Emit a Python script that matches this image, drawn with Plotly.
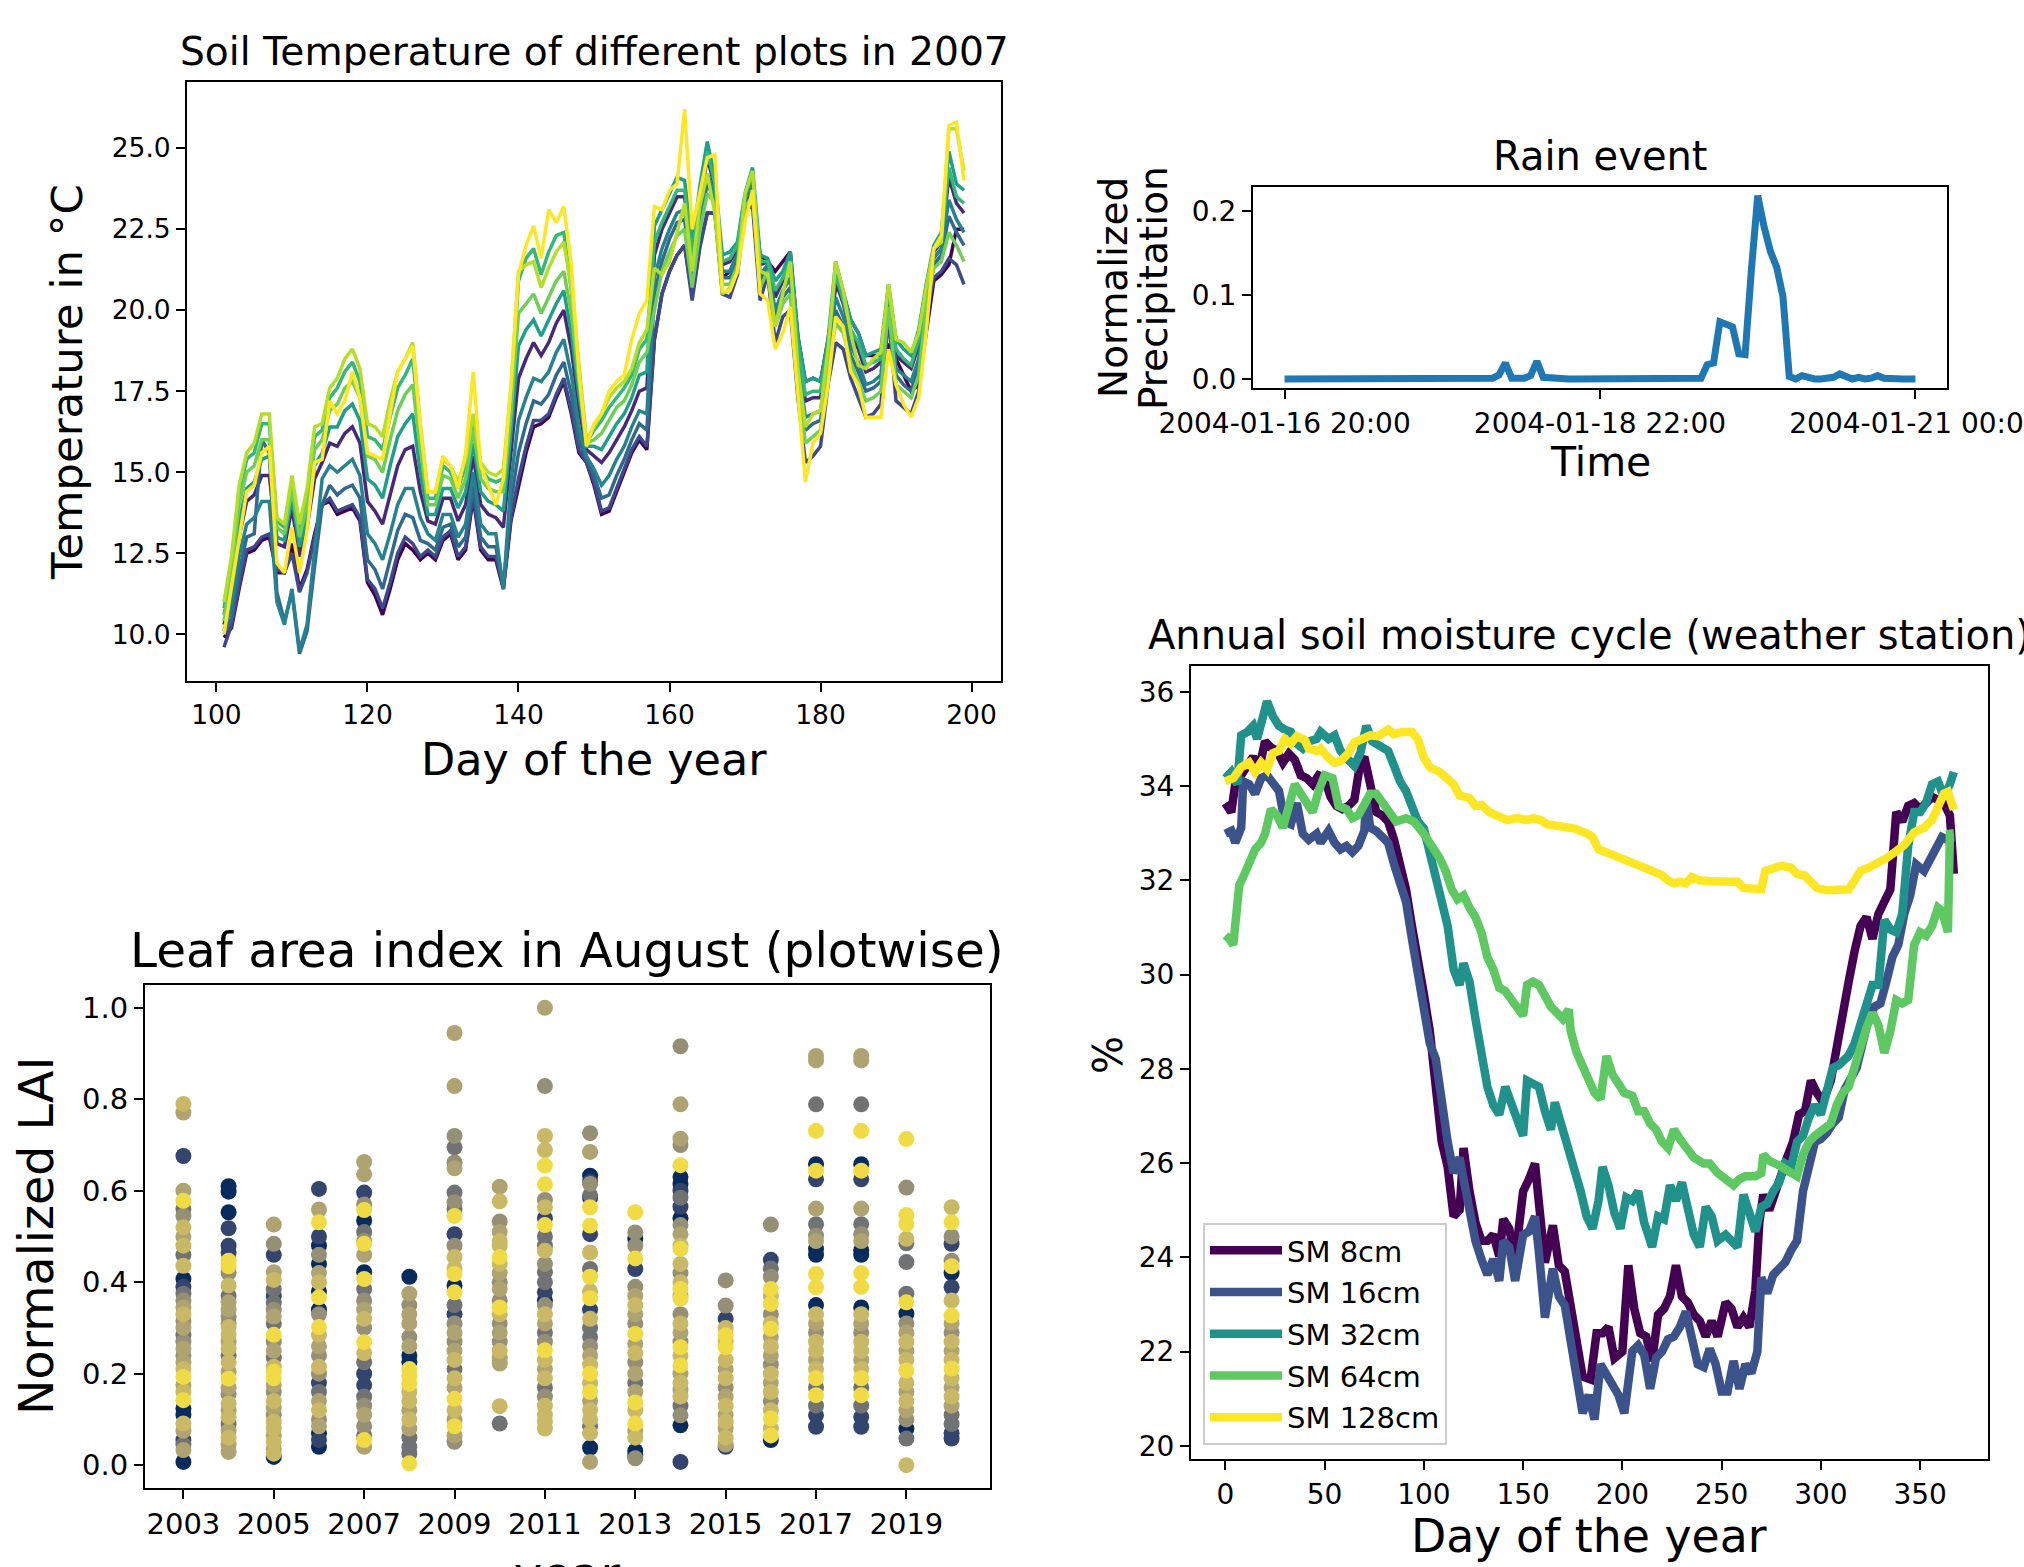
import pandas as pd
import plotly.graph_objects as go

W, H = 2024, 1567
FONT = "DejaVu Sans"

# ---------------- Soil temperature, days 101-199 (one series per plot) ----------------
temp_days = list(range(101, 200))
temp_colors = ["#440154", "#482878", "#3e4989", "#31688e", "#26828e",
               "#1f9e89", "#35b779", "#6ece58", "#b5de2b", "#fde725"]

temp_p01 = [9.9, 10.2, 11.4, 12.5, 12.6, 12.9, 13.0, 11.9, 11.9, 12.8,
            11.4, 12.0, 13.1, 14.0, 14.1, 13.7, 13.8, 13.9, 13.5, 11.6,
            11.2, 10.6, 11.4, 12.3, 12.8, 12.6, 12.3, 12.5, 12.3, 12.9,
            13.1, 12.3, 12.6, 14.2, 12.6, 12.3, 12.3, 11.4, 13.5, 14.6,
            15.6, 16.4, 16.5, 16.7, 17.3, 17.8, 16.8, 15.6, 15.3, 14.6,
            13.7, 13.8, 14.4, 15.0, 15.6, 16.0, 15.7, 19.1, 20.5, 21.2,
            21.7, 22.0, 20.5, 22.0, 23.0, 23.0, 21.0, 21.2, 21.7, 23.1,
            23.7, 21.7, 21.5, 21.2, 21.5, 21.8, 19.2, 17.8, 17.9, 17.8,
            19.1, 20.7, 20.5, 19.7, 19.3, 18.6, 18.6, 18.6, 18.9, 18.5,
            18.0, 17.5, 17.7, 19.3, 20.9, 21.1, 21.4, 22.5, 22.5]
temp_p02 = [10.3, 11.3, 13.0, 14.1, 14.3, 14.9, 14.9, 12.8, 12.7, 13.9,
            12.4, 13.3, 14.8, 15.3, 15.9, 15.8, 16.2, 16.4, 15.9, 14.1,
            13.8, 13.4, 14.3, 15.2, 15.7, 15.8, 14.4, 13.5, 13.4, 14.2,
            14.2, 13.5, 14.0, 15.5, 14.0, 13.7, 13.6, 13.3, 15.6, 17.9,
            18.5, 19.0, 18.6, 19.0, 19.6, 20.0, 18.8, 17.0, 15.7, 15.5,
            15.3, 15.6, 16.0, 16.4, 16.9, 17.5, 17.6, 21.7, 22.5, 23.0,
            23.5, 23.5, 21.6, 23.3, 24.7, 23.8, 21.4, 21.5, 21.9, 23.5,
            24.1, 21.4, 21.5, 20.4, 20.9, 21.4, 18.7, 17.2, 17.3, 17.3,
            18.8, 20.9, 20.2, 19.3, 18.8, 18.1, 18.2, 18.4, 20.6, 18.6,
            18.4, 18.2, 18.9, 20.6, 21.8, 22.1, 24.1, 23.3, 23.0]
temp_p03 = [9.6, 10.3, 11.5, 12.6, 12.7, 13.0, 13.1, 12.0, 11.9, 12.5,
            11.3, 11.9, 13.0, 14.0, 14.2, 13.8, 13.9, 14.0, 13.6, 11.7,
            11.4, 10.8, 11.6, 12.5, 13.0, 12.8, 12.4, 12.6, 12.4, 13.0,
            13.2, 12.4, 12.7, 14.3, 12.7, 12.4, 12.4, 11.5, 13.6, 14.8,
            15.8, 16.6, 16.6, 16.8, 17.4, 17.9, 16.9, 15.7, 15.3, 14.7,
            13.8, 13.9, 14.5, 15.1, 15.7, 16.1, 15.8, 19.1, 20.5, 21.2,
            21.7, 22.0, 20.3, 21.9, 23.0, 23.0, 20.5, 20.4, 21.1, 23.1,
            23.2, 20.3, 21.1, 19.0, 19.8, 20.0, 17.3, 15.3, 15.5, 15.8,
            17.7, 19.0, 18.8, 17.9, 17.3, 16.7, 16.8, 17.1, 19.8, 17.2,
            17.0, 16.8, 17.5, 19.8, 21.0, 21.2, 21.6, 21.4, 20.8]
temp_p04 = [10.0, 10.5, 11.9, 13.0, 13.1, 16.0, 15.6, 11.3, 10.4, 11.3,
            9.4, 10.1, 12.1, 14.0, 14.6, 14.3, 14.5, 14.6, 14.2, 12.3,
            12.0, 11.4, 12.3, 13.2, 13.7, 13.6, 12.9, 12.8, 12.6, 13.3,
            13.4, 12.7, 13.0, 14.6, 13.0, 12.7, 12.7, 11.4, 14.1, 15.6,
            16.5, 17.2, 17.1, 17.4, 18.0, 18.4, 17.4, 16.0, 15.4, 14.9,
            14.2, 14.3, 14.9, 15.4, 16.0, 16.5, 16.3, 20.5, 21.5, 22.2,
            22.7, 22.8, 21.0, 22.7, 23.9, 23.4, 21.0, 21.0, 21.5, 23.3,
            23.7, 20.9, 21.3, 19.8, 20.4, 20.7, 18.1, 16.3, 16.5, 16.6,
            18.3, 20.0, 19.5, 18.6, 18.1, 17.5, 17.6, 17.8, 20.2, 18.0,
            17.7, 17.5, 18.3, 20.2, 21.4, 21.7, 22.9, 22.4, 22.0]
temp_p05 = [10.1, 10.9, 12.4, 13.4, 13.6, 14.1, 14.1, 11.0, 10.3, 11.4,
            9.5, 10.3, 12.6, 14.8, 15.2, 15.0, 15.2, 15.4, 14.9, 13.1,
            12.8, 12.3, 13.1, 14.0, 14.5, 14.5, 13.6, 13.1, 12.9, 13.7,
            13.7, 13.0, 13.4, 15.0, 13.4, 13.1, 13.1, 11.4, 14.7, 16.6,
            17.3, 17.9, 17.8, 18.1, 18.7, 19.1, 18.0, 16.4, 15.5, 15.1,
            14.6, 14.9, 15.4, 15.8, 16.4, 16.9, 16.8, 21.0, 21.9, 22.5,
            23.0, 23.1, 21.2, 22.9, 24.2, 23.6, 21.2, 21.2, 21.7, 23.4,
            23.9, 21.1, 21.4, 20.0, 20.6, 21.0, 18.3, 16.7, 16.8, 16.9,
            18.5, 20.4, 19.8, 18.9, 18.4, 17.7, 17.8, 18.0, 20.4, 18.2,
            18.0, 17.8, 18.5, 20.4, 21.6, 21.9, 23.4, 22.8, 22.4]
temp_p06 = [10.6, 11.6, 13.5, 14.5, 14.7, 15.4, 15.5, 13.0, 12.9, 14.2,
            12.7, 13.6, 15.2, 15.6, 16.4, 16.4, 16.9, 17.1, 16.6, 14.8,
            14.6, 14.2, 15.2, 16.1, 16.5, 16.8, 15.0, 13.7, 13.7, 14.5,
            14.5, 13.9, 14.4, 15.9, 14.4, 14.1, 14.0, 13.8, 16.2, 18.9,
            19.4, 19.7, 19.2, 19.7, 20.2, 20.6, 19.3, 17.4, 15.8, 15.8,
            15.7, 16.1, 16.5, 16.8, 17.3, 18.0, 18.1, 22.6, 23.1, 23.6,
            24.1, 24.0, 22.0, 23.8, 25.2, 24.1, 21.7, 21.8, 22.1, 23.6,
            24.4, 21.7, 21.6, 20.9, 21.2, 21.8, 19.2, 17.8, 17.9, 17.8,
            19.1, 21.5, 20.6, 19.7, 19.3, 18.6, 18.7, 18.8, 20.8, 19.1,
            18.8, 18.6, 19.4, 20.8, 22.0, 22.4, 24.9, 23.9, 23.7]
temp_p07 = [10.8, 12.2, 14.3, 15.4, 15.6, 16.5, 16.5, 13.5, 13.3, 14.7,
            13.2, 14.3, 16.1, 16.3, 17.3, 17.6, 18.1, 18.4, 17.8, 16.1,
            16.0, 15.7, 16.7, 17.6, 18.0, 18.5, 16.2, 14.2, 14.2, 15.2,
            15.0, 14.5, 15.2, 16.6, 15.1, 14.8, 14.7, 14.8, 17.3, 20.9,
            21.6, 21.9, 21.1, 21.8, 22.3, 22.4, 20.6, 18.1, 15.9, 16.3,
            16.6, 17.0, 17.3, 17.6, 18.0, 18.8, 19.1, 22.1, 22.7, 23.2,
            23.7, 23.7, 21.7, 23.5, 24.9, 23.9, 21.5, 21.6, 22.0, 23.5,
            24.2, 21.5, 21.5, 20.6, 21.0, 21.5, 18.9, 17.4, 17.5, 17.5,
            18.9, 21.1, 20.3, 19.4, 19.0, 18.3, 18.4, 18.5, 20.7, 18.8,
            18.5, 18.3, 19.1, 20.7, 21.9, 22.2, 24.4, 23.5, 23.3]
temp_p08 = [10.4, 12.0, 14.0, 15.0, 15.2, 16.0, 16.0, 13.3, 13.1, 14.5,
            13.0, 14.0, 15.7, 16.0, 16.9, 17.1, 17.6, 17.8, 17.3, 15.5,
            15.4, 15.0, 16.0, 16.9, 17.4, 17.7, 15.7, 14.0, 14.0, 14.9,
            14.8, 14.2, 14.8, 16.3, 14.8, 14.5, 14.4, 14.4, 16.8, 19.9,
            20.2, 20.5, 19.9, 20.4, 20.9, 21.2, 19.9, 17.8, 15.9, 16.0,
            16.2, 16.6, 17.0, 17.2, 17.7, 18.4, 18.7, 20.0, 21.2, 21.8,
            22.3, 22.5, 20.7, 22.4, 23.6, 23.3, 20.8, 20.8, 21.4, 23.2,
            23.5, 20.7, 21.2, 19.5, 20.2, 20.5, 17.8, 15.9, 16.1, 16.3,
            18.1, 19.6, 19.3, 18.4, 17.8, 17.2, 17.3, 17.5, 20.1, 17.7,
            17.5, 17.3, 18.0, 20.1, 21.3, 21.5, 22.4, 22.0, 21.5]
temp_p09 = [11.0, 12.4, 14.6, 15.6, 15.9, 16.8, 16.8, 13.6, 13.4, 14.9,
            13.4, 14.5, 16.4, 16.5, 17.6, 17.9, 18.5, 18.8, 18.2, 16.5,
            16.4, 16.1, 17.2, 18.1, 18.5, 19.0, 16.5, 14.4, 14.4, 15.4,
            15.2, 14.7, 15.4, 16.8, 15.3, 15.0, 14.9, 15.1, 17.6, 21.2,
            21.4, 21.5, 20.7, 21.3, 21.8, 22.1, 20.7, 18.3, 16.0, 16.4,
            16.8, 17.3, 17.6, 17.8, 18.2, 19.0, 19.4, 21.3, 21.1, 21.5,
            22.4, 23.3, 21.2, 23.2, 24.2, 23.0, 20.5, 20.7, 21.2, 23.6,
            24.3, 21.2, 21.1, 19.5, 20.5, 21.5, 18.2, 16.4, 16.8, 16.9,
            18.8, 21.5, 20.6, 19.3, 18.3, 18.2, 18.5, 18.7, 20.8, 19.1,
            19.0, 18.7, 19.3, 20.7, 21.9, 22.1, 25.6, 25.6, 24.3]
temp_p10 = [10.0, 11.5, 13.0, 14.4, 14.6, 15.6, 15.8, 12.2, 11.9, 13.3,
            11.9, 13.2, 15.3, 15.4, 17.2, 16.8, 17.2, 18.1, 17.3, 15.6,
            15.5, 15.4, 16.8, 18.1, 18.5, 18.9, 16.4, 14.4, 14.4, 15.5,
            15.2, 14.5, 15.6, 18.1, 15.2, 14.6, 14.0, 14.8, 17.7, 21.1,
            22.0, 22.6, 21.6, 23.1, 22.7, 23.2, 21.4, 18.1, 15.8, 16.5,
            16.8, 17.5, 17.8, 18.0, 19.1, 19.9, 20.3, 23.2, 23.1, 23.7,
            23.9, 26.2, 22.5, 23.6, 24.7, 24.8, 20.6, 20.6, 21.2, 22.7,
            23.7, 20.5, 20.3, 18.8, 19.3, 20.1, 17.3, 14.7, 15.9, 16.2,
            17.7, 19.8, 19.5, 18.1, 17.7, 16.7, 16.7, 16.7, 18.8, 17.7,
            17.1, 16.7, 17.3, 19.3, 21.9, 22.3, 25.7, 25.8, 24.0]
temp_series = [temp_p01, temp_p02, temp_p03, temp_p04, temp_p05,
               temp_p06, temp_p07, temp_p08, temp_p09, temp_p10]

# ---------------- Rain event, hourly normalized precipitation ----------------
rain_start = "2004-01-16 20:00"
rain_values = [0.0, 0.0, 0.0, 0.0, 0.0, 0.0, 0.0, 0.0, 0.0, 0.0,
               0.0, 0.0, 0.0, 0.0, 0.0, 0.0, 0.0, 0.0, 0.0, 0.0,
               0.0, 0.0, 0.0, 0.0, 0.0, 0.0, 0.0, 0.0, 0.0, 0.0,
               0.0, 0.0, 0.0, 0.001, 0.005, 0.019, 0.001, 0.0, 0.001, 0.004,
               0.021, 0.002, 0.001, 0.0, 0.0, 0.0, 0.0, 0.0, 0.0, 0.0,
               0.0, 0.0, 0.0, 0.0, 0.0, 0.0, 0.0, 0.0, 0.0, 0.0,
               0.0, 0.0, 0.0, 0.0, 0.0, 0.0, 0.001, 0.017, 0.019, 0.068,
               0.064, 0.062, 0.030, 0.029, 0.13, 0.218, 0.181, 0.152, 0.133, 0.098,
               0.003, 0.0, 0.004, 0.001, 0.0, 0.0, 0.001, 0.002, 0.006, 0.002,
               0.0, 0.002, 0.0, 0.001, 0.004, 0.001, 0.0, 0.0, 0.0, 0.0,
               0.0]
rain_ticks = ["2004-01-16 20:00", "2004-01-18 22:00", "2004-01-21 00:00"]

# ---------------- Leaf area index in August: (normalized LAI, plot shade) ----------------
lai_years = list(range(2003, 2021))
LAI_2003 = [(0.79, .8), (0.771, .7), (0.676, .2), (0.60, .7), (0.578, .95), (0.56, .45), (0.545, .6),
            (0.52, .8), (0.50, .7), (0.48, .8), (0.46, .45), (0.436, .8), (0.407, .05), (0.39, .2),
            (0.375, .45), (0.36, .6), (0.345, .7), (0.33, .8), (0.315, .6), (0.30, .7), (0.285, .45),
            (0.27, .6), (0.255, .7), (0.24, .6), (0.225, .7), (0.21, .8), (0.193, .95), (0.175, .7),
            (0.16, .8), (0.142, .95), (0.124, .05), (0.11, .05), (0.091, .8), (0.075, .7), (0.055, .2),
            (0.045, .45), (0.033, .7), (0.007, .05)]
LAI_2004 = [(0.61, .05), (0.598, .05), (0.553, .05), (0.518, .2), (0.48, .2), (0.465, .2), (0.447, .95),
            (0.435, .95), (0.42, .6), (0.393, .8), (0.37, .45), (0.356, .7), (0.34, .7), (0.325, .6),
            (0.31, .6), (0.302, .8), (0.285, .8), (0.27, .7), (0.255, .8), (0.24, .45), (0.225, .8),
            (0.205, .7), (0.189, .95), (0.17, .7), (0.155, .6), (0.135, .8), (0.12, .7), (0.105, .8),
            (0.09, .45), (0.075, .7), (0.06, .8), (0.045, .7), (0.029, .7)]
LAI_2005 = [(0.526, .7), (0.484, .6), (0.46, .2), (0.422, .7), (0.405, .8), (0.385, .45), (0.37, .2),
            (0.355, .45), (0.34, .6), (0.325, .7), (0.31, .45), (0.285, .95), (0.27, .6), (0.25, .7),
            (0.235, .45), (0.215, .8), (0.204, .95), (0.19, .95), (0.175, .7), (0.16, .6), (0.14, .8),
            (0.125, .7), (0.11, .6), (0.095, .8), (0.08, .8), (0.065, .7), (0.05, .8), (0.035, .7),
            (0.025, .8), (0.018, .05)]
LAI_2006 = [(0.604, .2), (0.559, .7), (0.531, .95), (0.50, .2), (0.48, .05), (0.46, .6), (0.44, .05),
            (0.42, .7), (0.40, .8), (0.38, .05), (0.367, .95), (0.34, .05), (0.33, .6), (0.302, .95),
            (0.285, .8), (0.26, .7), (0.24, .6), (0.215, .8), (0.20, .6), (0.18, .2), (0.16, .45),
            (0.14, .7), (0.12, .8), (0.10, .6), (0.085, .7), (0.07, .05), (0.055, .2), (0.04, .05)]
LAI_2007 = [(0.663, .7), (0.636, .7), (0.596, .2), (0.57, .6), (0.558, .95), (0.535, .05), (0.51, .45),
            (0.49, .6), (0.484, .95), (0.46, .7), (0.422, .05), (0.407, .95), (0.385, .45), (0.36, .6),
            (0.34, .7), (0.32, .8), (0.30, .6), (0.269, .95), (0.245, .8), (0.225, .45), (0.20, .2),
            (0.175, .2), (0.15, .45), (0.13, .6), (0.11, .7), (0.085, .6), (0.065, .45), (0.055, .95),
            (0.04, .7)]
LAI_2008 = [(0.412, .05), (0.375, .7), (0.35, .6), (0.33, .7), (0.31, .7), (0.28, .6), (0.26, .7),
            (0.24, .05), (0.225, .05), (0.21, .95), (0.195, .95), (0.178, .95), (0.16, .8), (0.14, .8),
            (0.12, .7), (0.10, .8), (0.08, .7), (0.06, .45), (0.04, .45), (0.025, .45), (0.004, .95)]
LAI_2009 = [(0.945, .7), (0.829, .7), (0.72, .6), (0.695, .45), (0.662, .6), (0.649, .7), (0.596, .45),
            (0.575, .6), (0.56, .45), (0.545, .95), (0.505, .2), (0.48, .6), (0.455, .8), (0.43, .8),
            (0.418, .95), (0.393, .05), (0.378, .95), (0.35, .45), (0.33, .2), (0.31, .6), (0.29, .7),
            (0.27, .6), (0.25, .7), (0.23, .8), (0.21, .45), (0.19, .8), (0.17, .7), (0.145, .95),
            (0.12, .8), (0.10, .7), (0.085, .95), (0.065, .7), (0.051, .6)]
LAI_2010 = [(0.609, .7), (0.577, .8), (0.533, .6), (0.51, .7), (0.49, .8), (0.48, .8), (0.455, .95),
            (0.44, .8), (0.42, .7), (0.40, .6), (0.385, .7), (0.36, .6), (0.345, .95), (0.33, .8),
            (0.31, .6), (0.29, .7), (0.27, .6), (0.25, .8), (0.235, .7), (0.222, .7), (0.129, .8),
            (0.091, .45)]
LAI_2011 = [(1.0, .7), (0.829, .6), (0.72, .8), (0.689, .8), (0.655, .95), (0.614, .95), (0.58, .6),
            (0.564, .8), (0.54, .2), (0.525, .95), (0.50, .45), (0.48, .45), (0.469, .8), (0.44, .6),
            (0.422, .45), (0.40, .45), (0.378, .2), (0.36, .05), (0.35, .6), (0.33, .8), (0.31, .7),
            (0.29, .45), (0.27, .6), (0.251, .95), (0.23, .8), (0.21, .7), (0.19, .8), (0.17, .45),
            (0.15, .6), (0.13, .8), (0.11, .8), (0.095, .8), (0.08, .8)]
LAI_2012 = [(0.726, .6), (0.685, .7), (0.633, .05), (0.62, .2), (0.615, .6), (0.59, .45), (0.585, .05),
            (0.564, .95), (0.524, .95), (0.505, .2), (0.465, .8), (0.429, .45), (0.412, .95), (0.38, .8),
            (0.365, .95), (0.34, .2), (0.32, .8), (0.30, .45), (0.28, .45), (0.26, .6), (0.24, .7),
            (0.22, .8), (0.20, .95), (0.18, .8), (0.16, .95), (0.14, .7), (0.12, .8), (0.10, .8),
            (0.085, .45), (0.07, .8), (0.038, .05), (0.007, .7)]
LAI_2013 = [(0.553, .95), (0.509, .6), (0.495, .05), (0.48, .6), (0.452, .95), (0.429, .2), (0.39, .6),
            (0.37, .7), (0.35, .8), (0.33, .7), (0.31, .6), (0.287, .95), (0.265, .7), (0.245, .8),
            (0.225, .6), (0.20, .7), (0.18, .45), (0.16, .7), (0.137, .95), (0.12, .8), (0.091, .95),
            (0.075, .7), (0.06, .8), (0.031, .05), (0.02, .05), (0.015, .6)]
LAI_2014 = [(0.916, .6), (0.789, .7), (0.714, .7), (0.70, .6), (0.656, .95), (0.63, .05), (0.615, .05),
            (0.60, .2), (0.585, .45), (0.565, .2), (0.54, .05), (0.525, .6), (0.505, .7), (0.48, .8),
            (0.473, .95), (0.44, .8), (0.42, .6), (0.40, .8), (0.385, .95), (0.37, .7), (0.364, .95),
            (0.33, .6), (0.31, .8), (0.29, .7), (0.27, .6), (0.258, .95), (0.24, .8), (0.218, .95),
            (0.20, .7), (0.18, .8), (0.165, .7), (0.15, .8), (0.13, .45), (0.109, .6), (0.087, .05),
            (0.007, .2)]
LAI_2015 = [(0.404, .6), (0.349, .6), (0.32, .2), (0.30, .8), (0.284, .95), (0.27, .8), (0.258, .95),
            (0.23, .8), (0.21, .7), (0.19, .8), (0.17, .6), (0.15, .7), (0.13, .8), (0.11, .7),
            (0.095, .8), (0.08, .7), (0.06, .8), (0.045, .7), (0.04, .2)]
LAI_2016 = [(0.526, .6), (0.449, .2), (0.43, .45), (0.412, .6), (0.385, .95), (0.37, .8), (0.353, .95),
            (0.33, .6), (0.31, .8), (0.298, .95), (0.28, .7), (0.26, .8), (0.24, .7), (0.22, .6),
            (0.20, .8), (0.18, .7), (0.16, .8), (0.14, .6), (0.12, .8), (0.102, .95), (0.08, .8),
            (0.065, .95), (0.055, .05)]
LAI_2017 = [(0.895, .7), (0.885, .7), (0.789, .45), (0.731, .95), (0.658, .05), (0.644, .95), (0.625, .2),
            (0.561, .7), (0.527, .45), (0.502, .6), (0.49, .7), (0.473, .05), (0.46, .05), (0.418, .95),
            (0.389, .95), (0.35, .05), (0.33, .8), (0.31, .7), (0.29, .6), (0.27, .8), (0.25, .8),
            (0.23, .7), (0.21, .8), (0.19, .95), (0.17, .45), (0.153, .95), (0.13, .45), (0.109, .2),
            (0.084, .2)]
LAI_2018 = [(0.895, .7), (0.885, .7), (0.789, .45), (0.731, .95), (0.658, .05), (0.644, .95), (0.625, .2),
            (0.561, .7), (0.527, .45), (0.505, .6), (0.49, .7), (0.47, .05), (0.46, .05), (0.42, .95),
            (0.39, .95), (0.345, .05), (0.33, .8), (0.31, .7), (0.29, .6), (0.27, .8), (0.25, .8),
            (0.23, .7), (0.21, .8), (0.19, .95), (0.17, .45), (0.153, .95), (0.13, .45), (0.105, .2),
            (0.084, .2)]
LAI_2019 = [(0.713, .95), (0.607, .6), (0.547, .95), (0.527, .95), (0.495, .8), (0.485, .45), (0.444, .45),
            (0.375, .45), (0.356, .95), (0.331, .05), (0.31, .6), (0.29, .7), (0.27, .8), (0.25, .7),
            (0.23, .8), (0.207, .95), (0.18, .8), (0.16, .7), (0.14, .8), (0.12, .7), (0.10, .6),
            (0.08, .05), (0.058, .45), (0.0, .8)]
LAI_2020 = [(0.564, .8), (0.531, .95), (0.50, .6), (0.484, .2), (0.447, .6), (0.435, .95), (0.42, .05),
            (0.389, .2), (0.36, .8), (0.327, .95), (0.31, .7), (0.29, .6), (0.27, .8), (0.25, .7),
            (0.23, .8), (0.211, .95), (0.19, .8), (0.17, .7), (0.15, .8), (0.13, .7), (0.11, .45),
            (0.09, .45), (0.07, .2), (0.058, .2)]
lai_by_year = [LAI_2003, LAI_2004, LAI_2005, LAI_2006, LAI_2007, LAI_2008, LAI_2009, LAI_2010, LAI_2011,
               LAI_2012, LAI_2013, LAI_2014, LAI_2015, LAI_2016, LAI_2017, LAI_2018, LAI_2019, LAI_2020]

# ---------------- Annual soil moisture cycle (weather station), % ----------------
sm_labels = ["SM 8cm", "SM 16cm", "SM 32cm", "SM 64cm", "SM 128cm"]
sm_colors = ["#440154", "#3b528b", "#21918c", "#5ec962", "#fde725"]

sm8_day = [0, 3, 5, 8, 11, 14, 17, 20, 23, 26, 29, 32, 35, 38, 41, 44, 47, 50, 53, 56,
           59, 62, 65, 68, 70, 73, 76, 79, 82, 85, 88, 91, 94, 97, 100, 103, 106, 109, 112, 115,
           118, 120, 123, 126, 129, 132, 135, 138, 140, 143, 146, 150, 153, 156, 158, 161, 165, 168, 171, 174,
           177, 180, 184, 187, 190, 193, 196, 200, 203, 206, 209, 212, 215, 218, 221, 224, 227, 230, 233, 236,
           239, 242, 245, 248, 252, 255, 258, 261, 264, 267, 269, 271, 274, 277, 280, 283, 286, 289, 292, 295,
           298, 301, 305, 308, 311, 314, 317, 320, 323, 326, 329, 332, 335, 338, 341, 344, 347, 350, 353, 356,
           359, 362, 365, 367]
sm8_val = [33.64, 33.45, 34.04, 34.23, 34.43, 34.62, 34.36, 34.95, 34.82, 34.75,
           34.5, 34.69, 34.56, 34.23, 34.17, 34.04, 34.23, 34.17, 33.77, 33.58,
           33.51, 33.58, 33.71, 34.5, 34.62, 34.04, 33.45, 33.38, 33.25, 32.86,
           32.34, 31.81, 31.03, 30.37, 29.59, 28.8, 27.75, 26.45, 25.92, 24.87,
           25.0, 26.32, 25.4, 24.74, 24.35, 24.35, 24.48, 24.02, 24.81, 24.61,
           23.96, 25.4, 25.66, 25.99, 25.14, 23.89, 24.68, 23.83, 23.7, 22.91,
           22.26, 21.47, 21.41, 22.39, 22.39, 22.52, 21.86, 22.0, 23.83, 22.91,
           22.39, 22.32, 21.8, 22.78, 22.91, 23.17, 23.83, 23.17, 23.04, 22.78,
           22.65, 22.32, 22.65, 22.32, 23.04, 22.91, 22.52, 22.72, 22.52, 23.3,
           24.74, 25.33, 25.0, 25.4, 25.66, 26.12, 26.45, 27.03, 27.1, 27.75,
           27.49, 27.29, 27.75, 28.54, 29.06, 29.85, 30.5, 31.03, 31.22, 30.76,
           31.29, 31.55, 31.81, 33.45, 33.25, 33.58, 33.64, 33.51, 33.64, 33.77,
           33.71, 33.64, 33.38, 32.14]

sm16_day = [0, 3, 5, 8, 9, 12, 15, 18, 21, 24, 27, 30, 33, 36, 39, 42, 46, 48, 52, 55,
            58, 61, 64, 67, 70, 71, 73, 76, 79, 82, 85, 88, 91, 94, 97, 100, 103, 106, 109, 112,
            115, 118, 120, 123, 126, 129, 132, 135, 138, 140, 143, 146, 150, 153, 156, 158, 161, 165, 168, 171,
            174, 177, 180, 183, 186, 189, 192, 195, 198, 201, 205, 208, 211, 214, 217, 220, 223, 226, 229, 232,
            235, 238, 241, 244, 247, 250, 253, 256, 259, 262, 265, 268, 270, 273, 276, 279, 282, 285, 288, 291,
            294, 297, 300, 303, 306, 309, 312, 315, 318, 321, 324, 327, 330, 333, 336, 339, 342, 345, 348, 352,
            355, 358, 361, 364, 367]
sm16_val = [32.99, 33.05, 32.8, 33.12, 34.1, 34.04, 33.84, 34.17, 34.23, 34.04,
            33.9, 33.25, 33.19, 33.64, 32.99, 32.86, 32.99, 32.8, 33.05, 32.8,
            32.66, 32.73, 32.6, 32.73, 33.05, 33.71, 33.12, 33.05, 32.92, 32.8,
            32.34, 31.88, 31.55, 30.76, 29.98, 29.32, 28.54, 28.21, 27.23, 26.45,
            25.79, 26.12, 25.66, 24.87, 24.35, 23.96, 23.63, 23.96, 23.5, 24.35,
            24.22, 23.5, 24.48, 24.55, 24.87, 24.09, 22.72, 23.76, 23.17, 22.98,
            22.26, 21.6, 20.69, 21.08, 20.56, 21.73, 21.54, 21.34, 21.08, 20.69,
            22.0, 22.13, 21.93, 21.21, 21.87, 22.0, 22.26, 22.32, 22.52, 22.85,
            22.32, 21.73, 21.67, 22.06, 21.73, 21.15, 21.15, 21.8, 21.21, 21.73,
            21.54, 22.0, 23.57, 23.24, 23.63, 23.76, 23.89, 24.15, 24.35, 25.4,
            25.92, 26.45, 26.51, 26.64, 26.84, 26.97, 27.56, 27.82, 28.02, 28.54,
            29.06, 29.32, 29.39, 29.85, 30.37, 30.63, 31.29, 31.68, 32.34, 32.2,
            32.47, 32.73, 32.92, 32.86, 32.8]

sm32_day = [0, 3, 6, 8, 11, 14, 16, 18, 21, 24, 27, 30, 33, 36, 39, 42, 46, 48, 52, 55,
            58, 62, 65, 68, 71, 74, 79, 82, 85, 88, 91, 94, 97, 100, 103, 106, 109, 112, 115, 118,
            120, 123, 126, 129, 132, 135, 138, 141, 144, 147, 150, 152, 155, 158, 161, 164, 166, 170, 173, 176,
            179, 182, 185, 188, 190, 193, 196, 199, 202, 205, 208, 211, 215, 218, 221, 224, 227, 230, 233, 236,
            239, 242, 245, 248, 252, 255, 258, 261, 264, 267, 270, 273, 276, 279, 282, 285, 288, 291, 294, 297,
            300, 303, 306, 309, 314, 317, 320, 323, 326, 329, 332, 335, 338, 341, 344, 347, 350, 353, 356, 359,
            362, 365, 367]
sm32_val = [34.17, 34.3, 34.04, 35.08, 35.15, 35.28, 35.0, 35.35, 35.8, 35.48,
            35.28, 35.2, 35.15, 34.9, 34.8, 34.95, 35.0, 35.15, 35.0, 35.08,
            34.75, 34.56, 34.43, 34.7, 35.28, 34.95, 34.8, 34.75, 34.43, 34.1,
            33.9, 33.58, 33.25, 33.1, 32.6, 31.94, 31.48, 31.03, 30.11, 29.78,
            30.24, 29.85, 29.06, 28.41, 27.62, 27.23, 27.03, 27.62, 27.29, 27.03,
            26.58, 27.75, 27.69, 27.62, 27.1, 26.71, 27.29, 26.71, 26.32, 25.92,
            25.4, 24.87, 24.61, 25.2, 25.92, 25.53, 24.94, 24.61, 25.27, 25.2,
            25.4, 24.74, 24.22, 24.87, 24.81, 25.53, 25.2, 25.59, 25.0, 24.48,
            24.22, 25.07, 24.87, 24.35, 24.48, 24.35, 24.22, 25.33, 24.94, 24.55,
            25.07, 25.14, 25.4, 25.59, 25.99, 25.92, 26.45, 26.58, 26.97, 27.23,
            27.03, 27.49, 28.02, 28.08, 28.28, 28.54, 28.93, 29.46, 29.78, 29.78,
            31.16, 30.96, 30.9, 31.29, 32.73, 33.45, 33.45, 33.64, 34.04, 34.1,
            33.77, 34.04, 34.3]

sm64_day = [0, 2, 4, 7, 9, 12, 15, 18, 20, 23, 26, 29, 32, 35, 38, 40, 44, 47, 50, 54,
            57, 61, 64, 67, 70, 73, 76, 79, 82, 86, 91, 95, 100, 103, 108, 111, 114, 117, 120, 123,
            126, 129, 132, 135, 138, 141, 144, 147, 150, 152, 155, 158, 161, 164, 167, 170, 173, 174, 177, 180,
            183, 186, 189, 191, 192, 195, 198, 201, 205, 208, 211, 214, 217, 220, 223, 226, 229, 232, 236, 241,
            244, 248, 253, 256, 259, 262, 267, 270, 271, 274, 279, 283, 288, 291, 294, 297, 302, 305, 308, 311,
            314, 317, 320, 323, 326, 329, 332, 335, 338, 341, 344, 347, 350, 353, 356, 359, 361, 364, 365, 367]
sm64_val = [30.83, 30.76, 30.63, 31.9, 32.07, 32.4, 32.66, 32.8, 32.99, 33.51,
            33.38, 33.12, 33.58, 34.04, 33.84, 33.71, 33.45, 33.9, 34.23, 34.17,
            33.58, 33.51, 33.32, 33.38, 33.64, 33.84, 33.84, 33.64, 33.51, 33.25,
            33.32, 33.25, 32.99, 32.8, 32.47, 32.2, 31.81, 31.6, 31.68, 31.42,
            31.22, 30.9, 30.37, 30.11, 29.72, 29.65, 29.46, 29.32, 29.13, 29.78,
            29.85, 29.78, 29.52, 29.32, 29.19, 29.06, 29.26, 28.8, 28.34, 28.02,
            27.75, 27.49, 27.36, 28.02, 28.27, 27.88, 27.69, 27.49, 27.43, 27.1,
            27.1, 26.84, 26.71, 26.45, 26.32, 26.71, 26.51, 26.32, 26.12, 25.99,
            25.99, 25.79, 25.59, 25.53, 25.66, 25.72, 25.72, 25.79, 26.18, 26.05,
            25.95, 25.86, 25.72, 26.18, 26.45, 26.58, 26.71, 26.84, 27.23, 27.49,
            27.62, 28.02, 28.54, 28.87, 29.19, 28.93, 28.34, 28.8, 29.46, 29.39,
            29.46, 30.63, 30.9, 30.83, 31.03, 31.42, 31.35, 30.9, 32.99, 33.0]

sm128_day = [0, 4, 8, 12, 15, 18, 21, 24, 27, 30, 33, 36, 40, 42, 46, 48, 52, 55, 58, 62,
             65, 70, 73, 77, 80, 82, 85, 89, 94, 97, 100, 103, 108, 112, 115, 118, 123, 126, 129, 133,
             138, 142, 147, 152, 155, 159, 162, 167, 171, 176, 182, 185, 188, 192, 198, 203, 208, 211, 215, 220,
             223, 226, 229, 232, 235, 239, 245, 252, 258, 261, 265, 270, 272, 276, 280, 285, 288, 292, 295, 298,
             303, 309, 314, 317, 320, 324, 329, 333, 338, 342, 347, 352, 356, 359, 362, 364, 367]
sm128_val = [34.1, 34.17, 34.4, 34.5, 34.3, 34.5, 34.36, 34.7, 34.75, 35.0,
             34.9, 35.06, 34.98, 34.8, 34.75, 34.8, 34.6, 34.5, 34.53, 34.7,
             34.93, 35.0, 35.08, 35.06, 35.15, 35.2, 35.1, 35.15, 35.15, 35.0,
             34.6, 34.4, 34.3, 34.17, 34.04, 33.8, 33.75, 33.58, 33.6, 33.45,
             33.35, 33.28, 33.32, 33.28, 33.32, 33.28, 33.19, 33.15, 33.12, 33.1,
             33.0, 32.92, 32.66, 32.6, 32.5, 32.4, 32.36, 32.27, 32.2, 32.11,
             32.0, 31.94, 31.97, 31.94, 32.07, 32.0, 31.98, 31.97, 31.97, 31.84,
             31.81, 31.81, 32.2, 32.27, 32.31, 32.27, 32.14, 32.1, 31.97, 31.84,
             31.79, 31.79, 31.81, 32.0, 32.2, 32.27, 32.36, 32.47, 32.62, 32.75,
             33.02, 33.12, 33.28, 33.58, 33.84, 33.88, 33.5]

sm_days = [sm8_day, sm16_day, sm32_day, sm64_day, sm128_day]
sm_vals = [sm8_val, sm16_val, sm32_val, sm64_val, sm128_val]


def px_x(px):
    return px / W


def px_y(py):
    return 1 - py / H


def axis(tick_size, **kw):
    d = dict(showline=True, linecolor="black", linewidth=2, mirror=True,
             ticks="outside", ticklen=9, tickwidth=2, tickcolor="black",
             showgrid=False, zeroline=False, automargin=False,
             ticklabeloverflow="allow",
             tickfont=dict(family=FONT, size=tick_size, color="black"))
    d.update(kw)
    return d


fig = go.Figure()

# Soil temperature lines
for vals, col in zip(temp_series, temp_colors):
    fig.add_trace(go.Scatter(x=temp_days, y=vals, mode="lines",
                             line=dict(color=col, width=3.5),
                             showlegend=False, xaxis="x", yaxis="y"))

# Rain event
rain_time = pd.date_range(rain_start, periods=len(rain_values), freq="h")
fig.add_trace(go.Scatter(x=rain_time, y=rain_values, mode="lines",
                         line=dict(color="#1f77b4", width=7),
                         showlegend=False, xaxis="x2", yaxis="y2"))

# Leaf area index scatter (darker plots drawn first)
pts = []
for yr, pairs in zip(lai_years, lai_by_year):
    for v, s in pairs:
        pts.append((s, yr, v))
pts.sort(key=lambda p: p[0])
fig.add_trace(go.Scatter(x=[p[1] for p in pts], y=[p[2] for p in pts], mode="markers",
                         marker=dict(size=16, color=[p[0] for p in pts], colorscale="Cividis",
                                     cmin=0, cmax=1, line=dict(width=0)),
                         showlegend=False, xaxis="x3", yaxis="y3"))

# Soil moisture lines
for i, (d, v) in enumerate(zip(sm_days, sm_vals)):
    fig.add_trace(go.Scatter(x=d, y=v, mode="lines", name=sm_labels[i],
                             legendgroup=sm_labels[i],
                             line=dict(color=sm_colors[i], width=8.5),
                             showlegend=True, xaxis="x4", yaxis="y4"))

temp_yticks = [10, 12.5, 15, 17.5, 20, 22.5, 25]
lai_yticks = [0, 0.2, 0.4, 0.6, 0.8, 1.0]

fig.update_layout(
    width=W, height=H, autosize=False,
    margin=dict(l=0, r=0, t=0, b=0, autoexpand=False),
    paper_bgcolor="white", plot_bgcolor="white",
    font=dict(family=FONT, color="black"),
    xaxis=axis(26.5, domain=[px_x(187), px_x(1001)], anchor="y", range=[96.1, 203.9],
               tickvals=[100, 120, 140, 160, 180, 200]),
    yaxis=axis(26.5, domain=[px_y(681), px_y(82)], anchor="x", range=[8.56, 27.04],
               tickvals=temp_yticks, ticktext=[f"{t:.1f}" for t in temp_yticks]),
    xaxis2=axis(28, domain=[px_x(1253), px_x(1947)], anchor="y2", type="date",
                range=["2004-01-16 15:00", "2004-01-21 05:00"],
                tickvals=rain_ticks, ticktext=rain_ticks),
    yaxis2=axis(28, domain=[px_y(388), px_y(187)], anchor="x2", range=[-0.0107, 0.2282],
                tickvals=[0, 0.1, 0.2], ticktext=["0.0", "0.1", "0.2"]),
    xaxis3=axis(29, domain=[px_x(145), px_x(990)], anchor="y3", range=[2002.15, 2020.85],
                tickvals=list(range(2003, 2020, 2))),
    yaxis3=axis(29, domain=[px_y(1488), px_y(985)], anchor="x3", range=[-0.05, 1.05],
                tickvals=lai_yticks, ticktext=[f"{t:.1f}" for t in lai_yticks]),
    xaxis4=axis(28, domain=[px_x(1191), px_x(1988)], anchor="y4", range=[-17.3, 384.2],
                tickvals=[0, 50, 100, 150, 200, 250, 300, 350]),
    yaxis4=axis(28, domain=[px_y(1459), px_y(666)], anchor="x4", range=[19.72, 36.55],
                tickvals=list(range(20, 37, 2))),
    legend=dict(x=px_x(1203), y=px_y(1223), xanchor="left", yanchor="top",
                bgcolor="rgba(255,255,255,0.8)", bordercolor="#cccccc", borderwidth=2,
                font=dict(family=FONT, size=29, color="black"),
                tracegroupgap=1, itemwidth=72),
)


def label(text, x, y, size, angle=0):
    fig.add_annotation(text=text, x=px_x(x), y=px_y(y), xref="paper", yref="paper",
                       xanchor="center", yanchor="middle", showarrow=False, textangle=angle,
                       font=dict(family=FONT, size=size, color="black"))


label("Soil Temperature of different plots in 2007", 594, 52, 39.2)
label("Day of the year", 594, 759, 44.5)
label("Temperature in °C", 67, 382, 43.5, -90)

label("Rain event", 1600, 156, 40)
label("Normalized", 1113, 288, 39, -90)
label("Precipitation", 1153, 288, 39, -90)
label("Time", 1600, 462, 41)

label("Leaf area index in August (plotwise)", 567, 950, 48.5)
label("Normalized LAI", 36, 1236, 47.5, -90)
label("year", 567, 1574, 47.5)

label("Annual soil moisture cycle (weather station)", 1589, 635, 40)
label("Day of the year", 1589, 1536, 45.8)
label("%", 1108, 1055, 40, -90)

fig.write_html("out.html", config={"displayModeBar": False})
